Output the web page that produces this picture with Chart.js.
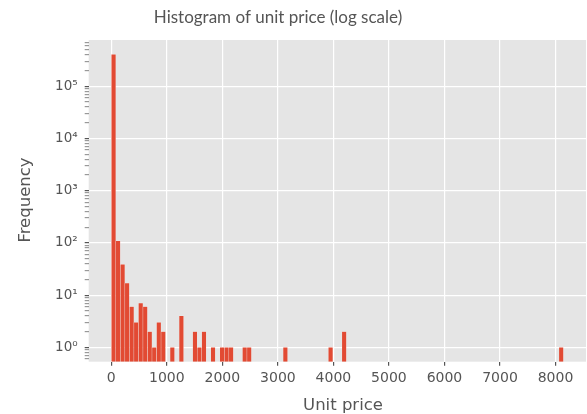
<!DOCTYPE html>
<html>
<head>
<meta charset="utf-8">
<script src="https://cdn.jsdelivr.net/npm/chart.js@4.4.1/dist/chart.umd.min.js"></script>
<style>
    body { margin: 0; background: #fff; }
</style>
</head>
<body>
<canvas id="chartPrice" width="587" height="414"></canvas>
<script>
// 100 bins from 0 up to the highest unit price
var binWidth = 81.43;
var binCounts = [
    410000, 110, 39, 17, 6, 3, 7, 6, 2, 1,
    3, 2, 0, 1, 0, 4, 0, 0, 2, 1,
    2, 0, 1, 0, 1, 1, 1, 0, 0, 1,
    1, 0, 0, 0, 0, 0, 0, 0, 1, 0,
    0, 0, 0, 0, 0, 0, 0, 0, 1, 0,
    0, 2, 0, 0, 0, 0, 0, 0, 0, 0,
    0, 0, 0, 0, 0, 0, 0, 0, 0, 0,
    0, 0, 0, 0, 0, 0, 0, 0, 0, 0,
    0, 0, 0, 0, 0, 0, 0, 0, 0, 0,
    0, 0, 0, 0, 0, 0, 0, 0, 0, 1
];
var xTicks = [0, 1000, 2000, 3000, 4000, 5000, 6000, 7000, 8000];
var yTicks = [1, 10, 100, 1000, 10000, 100000];
var yTickLabels = ['10⁰', '10¹', '10²', '10³', '10⁴', '10⁵'];

var xMin = -407, xMax = 8549;
var yMin = 0.53, yMax = 770000;

var bars = binCounts.map(function (c, i) {
    return { x: (i + 0.5) * binWidth, y: c > 0 ? c : null };
});

// minor ticks of the log axis (2..9 per decade)
var yAllTicks = [];
for (var e = -1; e <= 5; e++) {
    for (var m = 1; m <= 9; m++) {
        var v = m * Math.pow(10, e);
        if (v >= yMin && v <= yMax) yAllTicks.push(v);
    }
}
function isMajor(v) {
    return yTicks.some(function (t) { return Math.abs(t - v) < t * 1e-6; });
}

Chart.defaults.font.family = 'DejaVu Sans';
Chart.defaults.color = '#555555';

var decorPlugin = {
    id: 'decor',
    beforeDraw: function (chart) {
        var ctx = chart.ctx, a = chart.chartArea;
        ctx.save();
        ctx.fillStyle = '#E5E5E5';
        ctx.fillRect(a.left, a.top, a.right - a.left, a.bottom - a.top);
        ctx.restore();
    },
    afterDraw: function (chart) {
        var ctx = chart.ctx;
        ctx.save();
        ctx.fillStyle = '#555555';
        ctx.textAlign = 'center';
        ctx.textBaseline = 'alphabetic';
        ctx.font = '17px Lato';
        ctx.fillText('Histogram of unit price (log scale)', 278, 22.5);
        ctx.font = '16.5px "DejaVu Sans"';
        ctx.fillText('Unit price', 343, 410);
        ctx.translate(30, 200);
        ctx.rotate(-Math.PI / 2);
        ctx.fillText('Frequency', 0, 0);
        ctx.restore();
    }
};

const price = new Chart(
    document.getElementById('chartPrice'), {
        type: 'bar',
        data: {
            datasets: [{
                data: bars,
                backgroundColor: '#E24A33',
                borderColor: 'rgba(255,255,255,0.35)',
                borderWidth: 0.5,
                barPercentage: 1,
                categoryPercentage: 1
            }]
        },
        options: {
            responsive: false,
            animation: false,
            layout: { padding: { top: 40, right: 1, left: 0, bottom: 0 } },
            plugins: {
                legend: { display: false },
                tooltip: { enabled: false }
            },
            scales: {
                x: {
                    type: 'linear',
                    min: xMin,
                    max: xMax,
                    offset: false,
                    afterBuildTicks: function (scale) {
                        scale.ticks = xTicks.map(function (v) { return { value: v }; });
                    },
                    afterFit: function (scale) { scale.height = 52.3; },
                    border: { display: false },
                    grid: {
                        offset: false,
                        color: '#FFFFFF',
                        lineWidth: 1.2,
                        tickColor: '#555555',
                        tickLength: 4
                    },
                    ticks: {
                        font: { size: 14 },
                        padding: 4,
                        maxRotation: 0,
                        autoSkip: false,
                        callback: function (value) { return String(value); }
                    }
                },
                y: {
                    type: 'logarithmic',
                    min: yMin,
                    max: yMax,
                    afterBuildTicks: function (scale) {
                        scale.ticks = yAllTicks.map(function (v) { return { value: v, major: isMajor(v) }; });
                    },
                    afterFit: function (scale) { scale.width = 88.7; },
                    border: { display: false },
                    grid: {
                        color: function (ctx) {
                            return ctx.tick && isMajor(ctx.tick.value) ? '#FFFFFF' : 'rgba(0,0,0,0)';
                        },
                        lineWidth: 1.2,
                        tickColor: function (ctx) {
                            return ctx.tick && isMajor(ctx.tick.value) ? '#555555' : '#999999';
                        },
                        tickLength: 4
                    },
                    ticks: {
                        font: { size: 13.5 },
                        padding: 7,
                        autoSkip: false,
                        callback: function (value) {
                            var idx = yTicks.findIndex(function (t) { return Math.abs(t - value) < t * 1e-6; });
                            return idx >= 0 ? yTickLabels[idx] : '';
                        }
                    }
                }
            }
        },
        plugins: [decorPlugin]
    }
);
</script>
</body>
</html>
